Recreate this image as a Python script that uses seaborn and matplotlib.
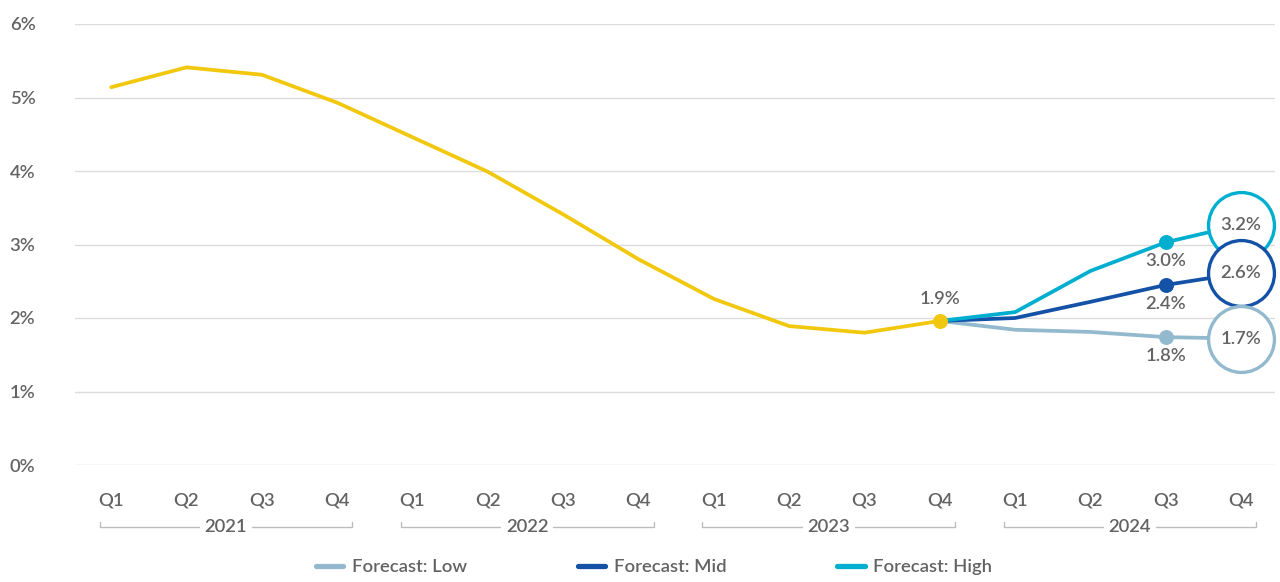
import matplotlib
matplotlib.use("Agg")
import matplotlib.pyplot as plt
import matplotlib.transforms as mtransforms
from matplotlib.lines import Line2D
import pandas as pd
import seaborn as sns

# data
quarters = ["Q1", "Q2", "Q3", "Q4"] * 4
years = ["2021", "2022", "2023", "2024"]
actual = [5.14, 5.41, 5.31, 4.93, 4.46, 3.99, 3.41, 2.80, 2.26, 1.89, 1.80, 1.96]
fc_low = [1.96, 1.84, 1.81, 1.74, 1.72]
fc_mid = [1.96, 2.00, 2.22, 2.45, 2.61]
fc_high = [1.96, 2.08, 2.64, 3.03, 3.27]
fc_names = ["Forecast: Low", "Forecast: Mid", "Forecast: High"]
actual_label = "1.9%"
q3_labels = ["1.8%", "2.4%", "3.0%"]
end_labels = ["1.7%", "2.6%", "3.2%"]
fc_start = 11  # Q4 2023 index

c_actual = "#F2C80F"
c_low = "#93B9CE"
c_mid = "#1452A8"
c_high = "#00AECF"
txt = "#636363"
fs = 13.3

sns.set_style("white")
plt.rcParams["font.family"] = ["Lato", "DejaVu Sans"]
plt.rcParams["font.weight"] = "semibold"

df_act = pd.DataFrame({"idx": range(len(actual)), "value": actual})
rows = []
for name, vals in zip(fc_names, [fc_low, fc_mid, fc_high]):
    for i, v in enumerate(vals):
        rows.append({"idx": fc_start + i, "value": v, "series": name})
df_fc = pd.DataFrame(rows)
colors = [c_low, c_mid, c_high]
palette = dict(zip(fc_names, colors))

fig = plt.figure(figsize=(12.8, 5.82), dpi=100)
ax = fig.add_axes([75 / 1280, 1 - 465 / 582, 1200 / 1280, 441 / 582])

sns.lineplot(data=df_fc, x="idx", y="value", hue="series", palette=palette,
             linewidth=2.7, legend=False, ax=ax, zorder=3)
sns.lineplot(data=df_act, x="idx", y="value", color=c_actual, linewidth=2.7, ax=ax, zorder=4)

# markers and labels
ax.scatter([fc_start], [actual[-1]], s=95, color=c_actual, zorder=6)
ax.annotate(actual_label, (fc_start, actual[-1]), xytext=(0, 10), textcoords="offset points",
            ha="center", va="bottom", fontsize=fs, color=txt)
for vals, col, lab in zip([fc_low, fc_mid, fc_high], colors, q3_labels):
    ax.scatter([fc_start + 3], [vals[3]], s=95, color=col, zorder=6)
    ax.annotate(lab, (fc_start + 3, vals[3]), xytext=(0, -8), textcoords="offset points",
                ha="center", va="top", fontsize=fs, color=txt)
# end circles, drawn high first so lower ones sit on top
for vals, col, lab in list(zip([fc_low, fc_mid, fc_high], colors, end_labels))[::-1]:
    ax.scatter([fc_start + 4], [vals[4]], s=2250, facecolor="white", edgecolor=col,
               linewidth=2.4, zorder=7, clip_on=False)
    ax.text(fc_start + 4, vals[4], lab, ha="center", va="center",
            fontsize=fs, color=txt, zorder=8)

ax.set_xlim(-0.48, 15.45)
ax.set_ylim(0, 6)
ax.set_yticks(range(7))
ax.set_yticklabels([f"{i}%" for i in range(7)], fontsize=fs, color=txt)
ax.set_xticks(range(16))
ax.set_xticklabels(quarters, fontsize=fs, color=txt)
ax.tick_params(axis="x", length=0, pad=20)
ax.tick_params(axis="y", length=0, pad=47)
for lbl in ax.get_yticklabels():
    lbl.set_horizontalalignment("left")
ax.grid(axis="y", color="#dcdcdc", linewidth=1)
ax.set_xlabel("")
ax.set_ylabel("")
sns.despine(ax=ax, left=True, bottom=True)

# year brackets under the quarter labels
trans = mtransforms.blended_transform_factory(ax.transData, ax.transAxes)
by = -0.141
for k, yr in enumerate(years):
    x0, x1 = k * 4 - 0.15, k * 4 + 3.2
    ax.plot([x0, x0, x1, x1], [by + 0.012, by, by, by + 0.012], transform=trans,
            color="#bdbdbd", linewidth=1, clip_on=False)
    ax.text((x0 + x1) / 2, by, yr, transform=trans, ha="center", va="center",
            fontsize=fs, color=txt,
            bbox=dict(boxstyle="square,pad=0.25", facecolor="white", edgecolor="none"))

handles = [Line2D([0], [0], color=c, linewidth=3.8) for c in colors]
fig.legend(handles, fc_names, loc="center",
           bbox_to_anchor=(654 / 1280, 1 - 567 / 582), ncol=3, frameon=False,
           fontsize=fs, labelcolor=txt, handlelength=1.5, handletextpad=0.45,
           columnspacing=6.0)

fig.savefig("out.png", dpi=100)
